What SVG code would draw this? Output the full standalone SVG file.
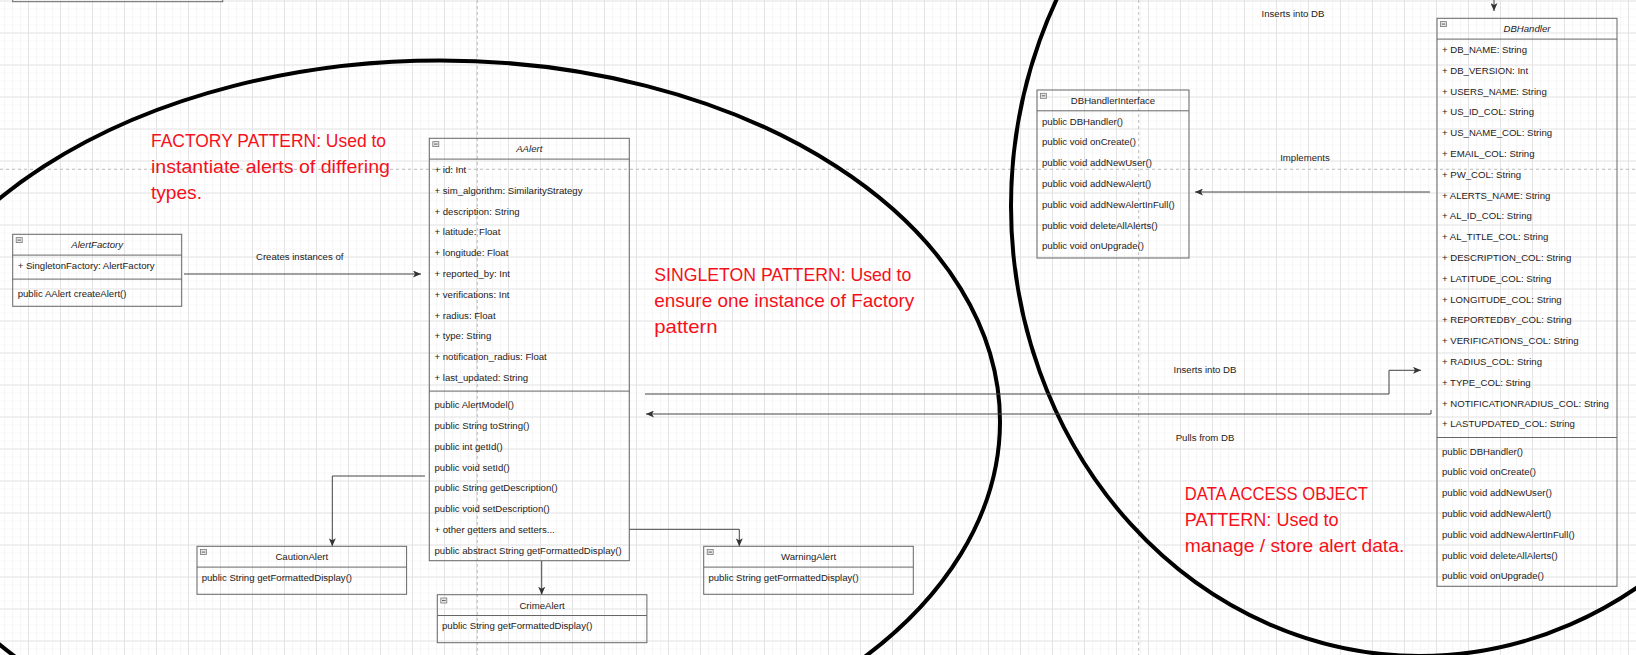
<svg xmlns="http://www.w3.org/2000/svg" width="1636" height="655" viewBox="0 0 1636 655">
<defs>
<style>
.box{fill:none;stroke:#666;stroke-width:1}
.sep{stroke:#666;stroke-width:1}
.t{font-family:"Liberation Sans",Arial,sans-serif;font-size:9.6px;fill:#1e1a22}
.ti{font-style:italic;text-anchor:middle}
.tc{text-anchor:middle}
.note{font-family:"Liberation Sans",Arial,sans-serif;font-size:18.4px;fill:#f5101a}
.conn{fill:none;stroke:#444;stroke-width:1}
.ell{fill:none;stroke:#000;stroke-width:4}
.pb{stroke:#bdbdbd;stroke-width:1;stroke-dasharray:3 3}
.ico{fill:#e6e6e6;stroke:#7a7a7a;stroke-width:0.8}
.icl{stroke:#444;stroke-width:0.8}
</style>
<pattern id="gMinor" width="8" height="8" patternUnits="userSpaceOnUse" x="28" y="0.5">
<path d="M0.5 0V8M0 0.5H8" stroke="#f6f6f6" stroke-width="1" fill="none"/>
</pattern>
<pattern id="gMajor" width="32" height="32" patternUnits="userSpaceOnUse" x="28" y="0.5">
<path d="M0.5 0V32M0 0.5H32" stroke="#e4e4e4" stroke-width="1" fill="none"/>
</pattern>
<marker id="arr" viewBox="0 0 8 7" refX="8" refY="3.5" markerWidth="8" markerHeight="7" markerUnits="userSpaceOnUse" orient="auto">
<path d="M0,0 L8,3.5 L0,7 L2,3.5 Z" fill="#333"/>
</marker>
</defs>

<g id="background">
<rect width="1636" height="655" fill="#fff"/>
<rect width="1636" height="655" fill="url(#gMinor)"/>
<rect width="1636" height="655" fill="url(#gMajor)"/>
<line class="pb" x1="477.3" y1="0" x2="477.3" y2="655"/>
<line class="pb" x1="1138.7" y1="0" x2="1138.7" y2="655"/>
<line class="pb" x1="0" y1="169.3" x2="1636" y2="169.3"/>
</g>

<g id="pattern-outlines">
<ellipse class="ell" cx="440" cy="421.5" rx="560" ry="361"/>
<ellipse class="ell" cx="1420" cy="206" rx="409" ry="450"/>
</g>

<g id="notes">
<g id="note-factory" class="note">
<text x="151" y="147.3" textLength="235" lengthAdjust="spacingAndGlyphs">FACTORY PATTERN: Used to</text>
<text x="151" y="173.3" textLength="239" lengthAdjust="spacingAndGlyphs">instantiate alerts of differing</text>
<text x="151" y="199.3" textLength="51" lengthAdjust="spacingAndGlyphs">types.</text>
</g>
<g id="note-singleton" class="note">
<text x="654.3" y="281" textLength="257" lengthAdjust="spacingAndGlyphs">SINGLETON PATTERN: Used to</text>
<text x="654.3" y="307" textLength="260" lengthAdjust="spacingAndGlyphs">ensure one instance of Factory</text>
<text x="654.3" y="333" textLength="63.4" lengthAdjust="spacingAndGlyphs">pattern</text>
</g>
<g id="note-dao" class="note">
<text x="1184.8" y="500" textLength="183" lengthAdjust="spacingAndGlyphs">DATA ACCESS OBJECT</text>
<text x="1184.8" y="526" textLength="153.8" lengthAdjust="spacingAndGlyphs">PATTERN: Used to</text>
<text x="1184.8" y="552" textLength="219.5" lengthAdjust="spacingAndGlyphs">manage / store alert data.</text>
</g>
</g>

<g id="connectors">
<path class="conn" d="M184,274 H421" marker-end="url(#arr)"/>
<path class="conn" d="M425,476 H332.3 V546.3" marker-end="url(#arr)"/>
<path class="conn" d="M541.7,560.7 V594.7" marker-end="url(#arr)"/>
<path class="conn" d="M629.3,529.3 H739.3 V546.3" marker-end="url(#arr)"/>
<path class="conn" d="M645,394 H1389 V370.3 H1421" marker-end="url(#arr)"/>
<path class="conn" d="M1431,410 V414 H646" marker-end="url(#arr)"/>
<path class="conn" d="M1430,192 H1195" marker-end="url(#arr)"/>
<path class="conn" d="M1494,-2 V11" marker-end="url(#arr)"/>
<text class="t tc" x="299.7" y="260.1">Creates instances of</text>
<text class="t tc" x="1293" y="17.1">Inserts into DB</text>
<text class="t tc" x="1305" y="161.1">Implements</text>
<text class="t tc" x="1205" y="373.1">Inserts into DB</text>
<text class="t tc" x="1205" y="441.1">Pulls from DB</text>
</g>

<g id="TopBox">
<rect class="box" x="12.7" y="-40" width="210" height="41.7"/>
</g>

<g id="AlertFactory">
<rect class="box" x="12.7" y="234.3" width="169" height="72"/>
<line class="sep" x1="12.7" y1="255.1" x2="181.7" y2="255.1"/>
<line class="sep" x1="12.7" y1="279.1" x2="181.7" y2="279.1"/>
<rect class="ico" x="16.2" y="237.6" width="6" height="5"/><line class="icl" x1="17.4" y1="240.1" x2="21" y2="240.1"/>
<text class="t ti" x="97.2" y="248.1">AlertFactory</text>
<text class="t" x="17.7" y="268.9">+ SingletonFactory: AlertFactory</text>
<text class="t" x="17.7" y="296.6">public AAlert createAlert()</text>
</g>

<g id="AAlert">
<rect class="box" x="429.3" y="138.3" width="200" height="422.4"/>
<line class="sep" x1="429.3" y1="159.1" x2="629.3" y2="159.1"/>
<line class="sep" x1="429.3" y1="391.1" x2="629.3" y2="391.1"/>
<rect class="ico" x="432.8" y="141.6" width="6" height="5"/><line class="icl" x1="434" y1="144.1" x2="437.6" y2="144.1"/>
<text class="t ti" x="529.3" y="152.1">AAlert</text>
<text class="t" x="434.5" y="172.9">+ id: Int</text>
<text class="t" x="434.5" y="193.7">+ sim_algorithm: SimilarityStrategy</text>
<text class="t" x="434.5" y="214.5">+ description: String</text>
<text class="t" x="434.5" y="235.3">+ latitude: Float</text>
<text class="t" x="434.5" y="256.1">+ longitude: Float</text>
<text class="t" x="434.5" y="276.9">+ reported_by: Int</text>
<text class="t" x="434.5" y="297.7">+ verifications: Int</text>
<text class="t" x="434.5" y="318.5">+ radius: Float</text>
<text class="t" x="434.5" y="339.3">+ type: String</text>
<text class="t" x="434.5" y="360.1">+ notification_radius: Float</text>
<text class="t" x="434.5" y="380.9">+ last_updated: String</text>
<text class="t" x="434.5" y="408.1">public AlertModel()</text>
<text class="t" x="434.5" y="428.9">public String toString()</text>
<text class="t" x="434.5" y="449.7">public int getId()</text>
<text class="t" x="434.5" y="470.5">public void setId()</text>
<text class="t" x="434.5" y="491.3">public String getDescription()</text>
<text class="t" x="434.5" y="512.1">public void setDescription()</text>
<text class="t" x="434.5" y="532.9">+ other getters and setters...</text>
<text class="t" x="434.5" y="553.7">public abstract String getFormattedDisplay()</text>
</g>

<g id="CautionAlert">
<rect class="box" x="197" y="546.3" width="209.6" height="48"/>
<line class="sep" x1="197" y1="567.1" x2="406.6" y2="567.1"/>
<rect class="ico" x="200.5" y="549.6" width="6" height="5"/><line class="icl" x1="201.7" y1="552.1" x2="205.3" y2="552.1"/>
<text class="t tc" x="301.8" y="560.1">CautionAlert</text>
<text class="t" x="201.7" y="580.9">public String getFormattedDisplay()</text>
</g>

<g id="CrimeAlert">
<rect class="box" x="437.3" y="594.7" width="209.6" height="48"/>
<line class="sep" x1="437.3" y1="615.5" x2="646.9" y2="615.5"/>
<rect class="ico" x="440.8" y="598" width="6" height="5"/><line class="icl" x1="442" y1="600.5" x2="445.6" y2="600.5"/>
<text class="t tc" x="542.1" y="608.5">CrimeAlert</text>
<text class="t" x="442" y="629.3">public String getFormattedDisplay()</text>
</g>

<g id="WarningAlert">
<rect class="box" x="703.7" y="546.3" width="209.6" height="48"/>
<line class="sep" x1="703.7" y1="567.1" x2="913.3" y2="567.1"/>
<rect class="ico" x="707.2" y="549.6" width="6" height="5"/><line class="icl" x1="708.4" y1="552.1" x2="712" y2="552.1"/>
<text class="t tc" x="808.5" y="560.1">WarningAlert</text>
<text class="t" x="708.4" y="580.9">public String getFormattedDisplay()</text>
</g>

<g id="DBHandlerInterface">
<rect class="box" x="1037" y="90" width="152" height="168"/>
<line class="sep" x1="1037" y1="110.8" x2="1189" y2="110.8"/>
<rect class="ico" x="1040.5" y="93.3" width="6" height="5"/><line class="icl" x1="1041.7" y1="95.8" x2="1045.3" y2="95.8"/>
<text class="t tc" x="1113" y="103.8">DBHandlerInterface</text>
<text class="t" x="1042" y="124.6">public DBHandler()</text>
<text class="t" x="1042" y="145.4">public void onCreate()</text>
<text class="t" x="1042" y="166.2">public void addNewUser()</text>
<text class="t" x="1042" y="187">public void addNewAlert()</text>
<text class="t" x="1042" y="207.8">public void addNewAlertInFull()</text>
<text class="t" x="1042" y="228.6">public void deleteAllAlerts()</text>
<text class="t" x="1042" y="249.4">public void onUpgrade()</text>
</g>

<g id="DBHandler">
<rect class="box" x="1437" y="18.3" width="180" height="568"/>
<line class="sep" x1="1437" y1="39.1" x2="1617" y2="39.1"/>
<line class="sep" x1="1437" y1="437.5" x2="1617" y2="437.5"/>
<rect class="ico" x="1440.5" y="21.6" width="6" height="5"/><line class="icl" x1="1441.7" y1="24.1" x2="1445.3" y2="24.1"/>
<text class="t ti" x="1527" y="32.1">DBHandler</text>
<text class="t" x="1442" y="52.9">+ DB_NAME: String</text>
<text class="t" x="1442" y="73.7">+ DB_VERSION: Int</text>
<text class="t" x="1442" y="94.5">+ USERS_NAME: String</text>
<text class="t" x="1442" y="115.3">+ US_ID_COL: String</text>
<text class="t" x="1442" y="136.1">+ US_NAME_COL: String</text>
<text class="t" x="1442" y="156.9">+ EMAIL_COL: String</text>
<text class="t" x="1442" y="177.7">+ PW_COL: String</text>
<text class="t" x="1442" y="198.5">+ ALERTS_NAME: String</text>
<text class="t" x="1442" y="219.3">+ AL_ID_COL: String</text>
<text class="t" x="1442" y="240.1">+ AL_TITLE_COL: String</text>
<text class="t" x="1442" y="260.9">+ DESCRIPTION_COL: String</text>
<text class="t" x="1442" y="281.7">+ LATITUDE_COL: String</text>
<text class="t" x="1442" y="302.5">+ LONGITUDE_COL: String</text>
<text class="t" x="1442" y="323.3">+ REPORTEDBY_COL: String</text>
<text class="t" x="1442" y="344.1">+ VERIFICATIONS_COL: String</text>
<text class="t" x="1442" y="364.9">+ RADIUS_COL: String</text>
<text class="t" x="1442" y="385.7">+ TYPE_COL: String</text>
<text class="t" x="1442" y="406.5">+ NOTIFICATIONRADIUS_COL: String</text>
<text class="t" x="1442" y="427.3">+ LASTUPDATED_COL: String</text>
<text class="t" x="1442" y="454.5">public DBHandler()</text>
<text class="t" x="1442" y="475.3">public void onCreate()</text>
<text class="t" x="1442" y="496.1">public void addNewUser()</text>
<text class="t" x="1442" y="516.9">public void addNewAlert()</text>
<text class="t" x="1442" y="537.7">public void addNewAlertInFull()</text>
<text class="t" x="1442" y="558.5">public void deleteAllAlerts()</text>
<text class="t" x="1442" y="579.3">public void onUpgrade()</text>
</g>
</svg>
